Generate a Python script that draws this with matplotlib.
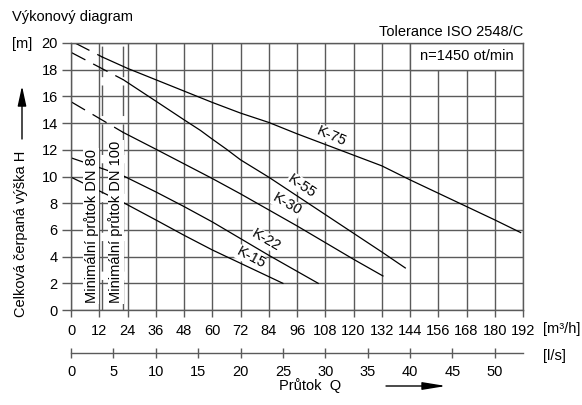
import numpy as np
import matplotlib.pyplot as plt
from matplotlib.patches import Rectangle

plt.rcParams['font.family'] = ['Liberation Sans', 'DejaVu Sans']
plt.rcParams['font.size'] = 10.5

# Q [m3/h] a H [m] pro jednotlivá čerpadla
# plná část (nad minimálním průtokem)
q_k75 = [13.3, 24, 36, 48, 60, 72, 84, 96, 108, 120, 132, 144, 156, 168, 180, 191]
h_k75 = [18.95, 18.1, 17.25, 16.4, 15.55, 14.75, 14.05, 13.2, 12.4, 11.6, 10.8, 9.75, 8.75, 7.75, 6.75, 5.8]
q_k55 = [22.2, 36, 48, 55, 60, 66, 72, 84, 96, 108, 120, 132, 142]
h_k55 = [17.25, 15.65, 14.25, 13.45, 12.8, 12.05, 11.25, 9.95, 8.55, 7.15, 5.75, 4.35, 3.15]
q_k30 = [22.2, 36, 48, 60, 72, 84, 96, 108, 120, 132.5]
h_k30 = [13.3, 12.05, 10.95, 9.85, 8.7, 7.5, 6.3, 5.05, 3.8, 2.55]
q_k22 = [22.2, 36, 48, 60, 72, 84, 96, 105]
h_k22 = [10.05, 8.85, 7.75, 6.6, 5.35, 4.1, 2.9, 2.0]
q_k15 = [22.2, 36, 48, 60, 72, 84, 90]
h_k15 = [8.05, 6.75, 5.6, 4.5, 3.5, 2.5, 2.0]

# čárkovaná část (pod minimálním průtokem)
q_k75_min = [1.7, 13.3]
h_k75_min = [20.0, 18.95]
q_k55_min = [0, 22.2]
h_k55_min = [19.3, 17.25]
q_k30_min = [0, 22.2]
h_k30_min = [15.6, 13.3]
q_k22_min = [0, 22.2]
h_k22_min = [11.4, 10.05]
q_k15_min = [0, 22.2]
h_k15_min = [9.95, 8.05]

# minimální průtok DN 80 / DN 100 [m3/h]
q_min_dn80 = 13.3
q_min_dn100 = 22.2

x_ticks = np.arange(0, 193, 12)
y_ticks = np.arange(0, 21, 2)
ls_ticks = np.arange(0, 51, 5)

W, H = 582, 405
fig = plt.figure(figsize=(W / 100, H / 100), dpi=100)
ax = fig.add_axes([71 / W, 1 - 310 / H, 452 / W, 267 / H])

grid_c = '#5a5a5a'
ax.set_xlim(0, 192)
ax.set_ylim(0, 20)
ax.set_xticks(x_ticks)
ax.set_yticks(y_ticks)
ax.set_axisbelow(True)
ax.grid(True, color=grid_c, lw=1.0)
for s in ax.spines.values():
    s.set_color(grid_c)
    s.set_linewidth(1.0)
ax.tick_params(axis='x', length=5, width=1.0, color=grid_c, pad=5)
ax.tick_params(axis='y', length=6.5, width=1.0, color=grid_c, pad=3)

# rámeček s otáčkami
ax.add_patch(Rectangle((144, 18), 48, 2, facecolor='white', edgecolor=grid_c, lw=1.0, zorder=1.5))
ax.text(168, 19, 'n=1450 ot/min', ha='center', va='center', zorder=3)

# křivky
curves = [
    (q_k75, h_k75, q_k75_min, h_k75_min),
    (q_k55, h_k55, q_k55_min, h_k55_min),
    (q_k30, h_k30, q_k30_min, h_k30_min),
    (q_k22, h_k22, q_k22_min, h_k22_min),
    (q_k15, h_k15, q_k15_min, h_k15_min),
]
for q, h, qm, hm in curves:
    ax.plot(q, h, color='black', lw=0.9, zorder=2)
    ax.plot(qm, hm, color='black', lw=0.9, ls=(0, (13, 7)), zorder=2)

# svislé čáry minimálního průtoku
for qv in (q_min_dn80, q_min_dn100):
    ax.plot([qv, qv], [0, 20], color=grid_c, lw=1.0, ls=(0, (22, 6)), zorder=1.8)

lbl_box = dict(facecolor='white', edgecolor='none', pad=0.6)
ax.text(8.5, 0.5, 'Minimální průtok DN 80', rotation=90, ha='center', va='bottom',
        bbox=lbl_box, zorder=3)
ax.text(19.1, 0.5, 'Minimální průtok DN 100', rotation=90, ha='center', va='bottom',
        bbox=lbl_box, zorder=3)

# popisky křivek
for txt, x, y, rot in [('K-75', 110.8, 13.0, -23), ('K-55', 98.1, 9.3, -34),
                       ('K-30', 91.8, 7.9, -30), ('K-22', 82.8, 5.25, -30),
                       ('K-15', 76.5, 3.9, -28)]:
    ax.text(x, y, txt, rotation=rot, ha='center', va='center',
            bbox=dict(facecolor='white', edgecolor='none', pad=0.3), zorder=3)

# druhá osa průtoku v l/s
ax2 = fig.add_axes([71 / W, 1 - 353 / H, 452 / W, 0.0001])
ax2.patch.set_visible(False)
for side in ('top', 'left', 'right'):
    ax2.spines[side].set_visible(False)
ax2.spines['bottom'].set_color(grid_c)
ax2.spines['bottom'].set_linewidth(1.0)
ax2.set_xlim(0, 192 / 3.6)
ax2.set_xticks(ls_ticks)
ax2.set_yticks([])
ax2.tick_params(axis='x', direction='inout', length=6.5, width=1.0, color=grid_c, pad=5.5)

# texty kolem grafu
fig.text(12 / W, 1 - 17 / H, 'Výkonový diagram', ha='left', va='center')
fig.text(12 / W, 1 - 44 / H, '[m]', ha='left', va='center')
fig.text(523 / W, 1 - 32 / H, 'Tolerance ISO 2548/C', ha='right', va='center')
fig.text(543 / W, 1 - 329 / H, '[m³/h]', ha='left', va='center')
fig.text(543 / W, 1 - 356 / H, '[l/s]', ha='left', va='center')
fig.text(21 / W, 1 - 234 / H, 'Celková čerpaná výška H', rotation=90, ha='center', va='center')
fig.text(310 / W, 1 - 386 / H, 'Průtok  Q', ha='center', va='center')

ax.annotate('', xy=(22 / W, 1 - 86 / H), xytext=(22 / W, 1 - 139 / H),
            xycoords='figure fraction', textcoords='figure fraction',
            arrowprops=dict(arrowstyle='-|>,head_length=1.15,head_width=0.25',
                            color='black', lw=1.0, shrinkA=0, shrinkB=0))
ax.annotate('', xy=(446 / W, 1 - 386 / H), xytext=(386 / W, 1 - 386 / H),
            xycoords='figure fraction', textcoords='figure fraction',
            arrowprops=dict(arrowstyle='-|>,head_length=1.35,head_width=0.22',
                            color='black', lw=1.0, shrinkA=0, shrinkB=0))

fig.savefig('out.png', dpi=100)
